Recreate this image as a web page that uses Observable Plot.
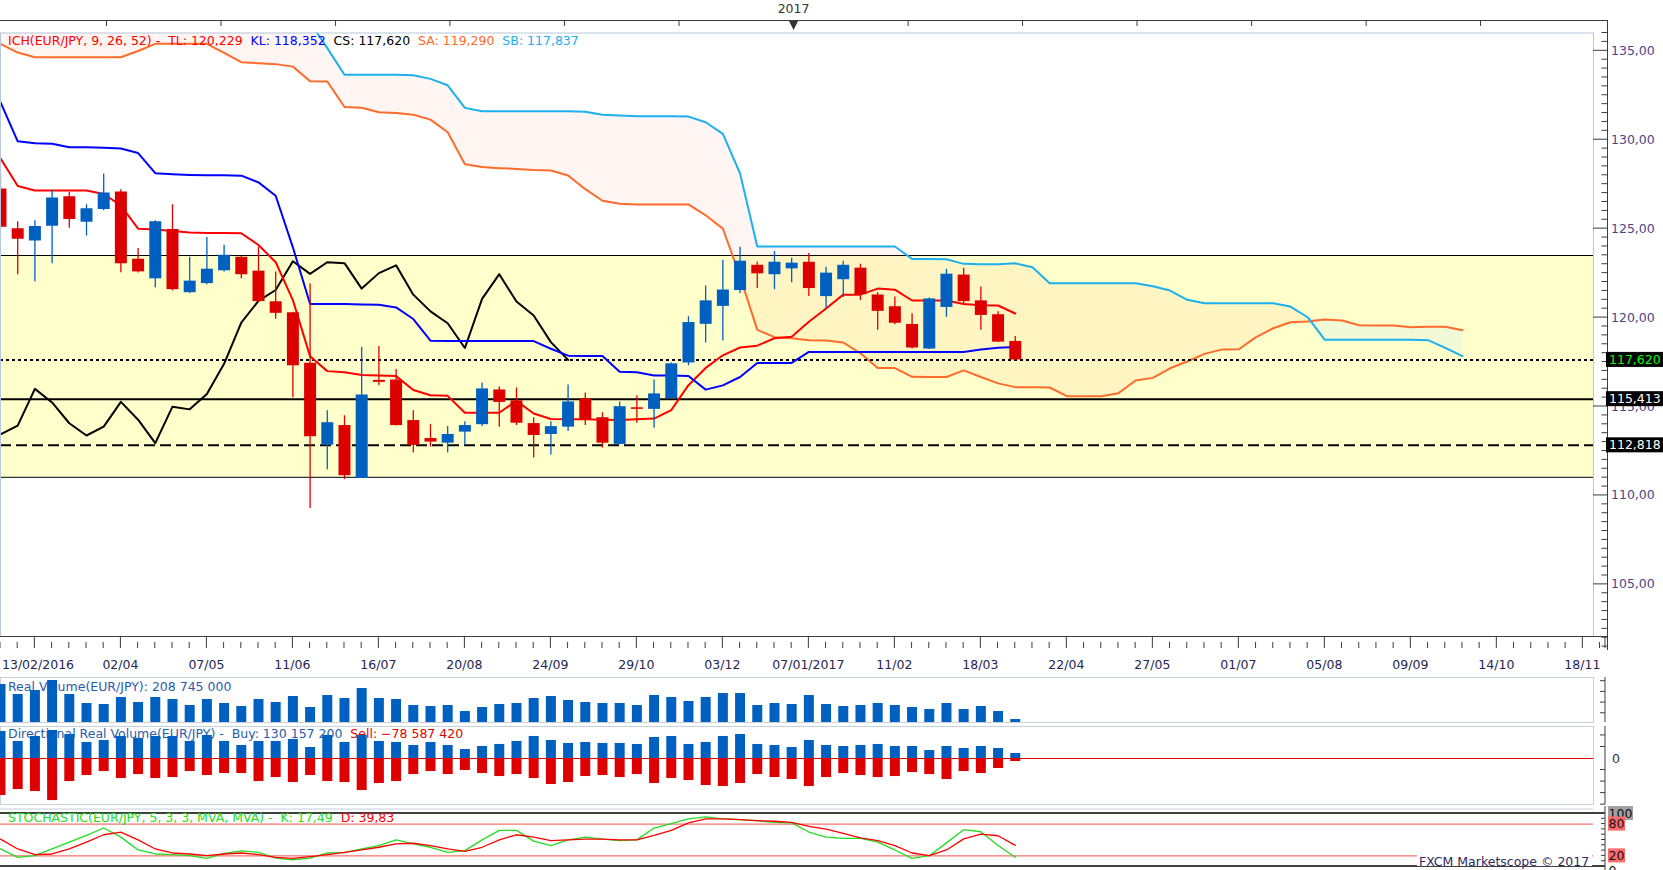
<!DOCTYPE html>
<html><head><meta charset="utf-8">
<script src="https://cdn.jsdelivr.net/npm/d3@7"></script>
<script src="https://cdn.jsdelivr.net/npm/@observablehq/plot@0.6"></script>
<style>
body{margin:0;background:#fff;overflow:hidden;}
#wrap{position:relative;width:1663px;height:870px;overflow:hidden;background:#fff;}
#wrap svg{position:absolute;left:0;}
</style></head><body><div id="wrap"></div>
<script>
// ---------- DATA (weekly EUR/JPY, first week 13/02/2016) ----------
const open  = [127.23,125.00,124.30,125.13,126.79,125.36,126.08,127.06,123.28,122.18,124.95,121.40,121.91,122.63,123.39,122.61,120.89,120.27,117.43,112.83,113.93,110.96,116.47,116.49,114.21,113.20,112.94,113.56,113.98,115.93,115.32,114.04,113.43,113.84,115.43,114.37,112.87,114.93,114.84,115.45,117.45,119.62,120.63,121.52,122.94,122.41,122.74,123.11,121.18,122.13,122.78,121.27,120.61,119.61,118.23,120.57,122.39,120.94,120.16,118.66];
const high  = [128.09,125.39,125.45,127.14,127.04,126.34,128.07,127.19,123.89,125.45,126.34,123.39,124.50,124.06,123.45,123.95,122.56,120.30,121.89,114.76,114.48,118.32,118.38,117.08,114.76,113.98,113.87,114.15,116.32,116.10,116.04,114.37,114.15,116.21,115.76,114.65,115.26,115.60,116.49,117.45,120.05,121.78,123.22,123.95,123.11,123.72,123.33,123.61,122.83,123.17,123.00,121.39,121.16,120.22,121.10,122.72,122.78,121.72,120.33,118.94];
const low   = [124.95,122.41,122.02,123.02,125.02,124.58,126.00,122.52,122.50,121.68,121.50,121.35,121.85,122.56,122.18,120.85,119.90,115.49,109.27,111.44,110.89,110.96,116.17,113.90,112.39,112.72,112.39,112.81,113.87,113.84,113.93,112.11,112.28,113.59,113.93,112.67,112.85,114.06,113.78,115.40,117.29,118.57,118.68,121.35,121.63,121.57,121.96,121.18,120.51,121.13,120.96,119.29,119.60,118.23,118.20,120.01,120.74,119.29,118.60,117.60];
const close = [125.08,124.41,125.12,126.73,125.52,126.12,127.01,123.02,122.57,125.39,121.57,122.05,122.72,123.50,122.41,120.90,120.24,117.29,113.30,114.09,111.11,115.65,116.36,113.93,112.81,113.00,113.43,113.93,115.99,115.23,114.06,113.37,113.87,115.26,114.26,112.94,114.99,114.84,115.71,117.40,119.72,120.94,121.55,123.17,122.46,123.11,123.06,121.63,122.50,122.94,121.29,120.35,119.68,118.29,121.05,122.44,120.90,120.12,118.62,117.620];
const tenkan = [128.95,127.40,127.15,127.15,127.15,127.15,126.95,126.30,125.00,124.95,124.87,124.78,124.76,124.76,124.74,124.08,123.11,120.98,117.82,116.99,116.93,116.77,116.75,116.71,115.93,115.63,115.60,114.65,114.65,114.65,115.32,114.61,114.30,114.28,114.28,114.26,114.24,114.28,114.32,114.80,116.20,117.17,117.88,118.32,118.42,118.84,118.92,119.77,120.51,121.29,121.29,121.63,121.57,120.96,120.96,120.96,120.76,120.70,120.68,120.229];
const kijun = [132.11,129.91,129.80,129.77,129.58,129.57,129.55,129.51,129.25,128.12,128.06,128.02,128.00,128.00,127.98,127.60,126.85,123.95,120.76,120.76,120.76,120.74,120.72,120.57,119.92,118.70,118.68,118.68,118.68,118.68,118.68,118.68,118.25,117.86,117.84,117.84,116.95,116.93,116.75,116.75,116.72,115.95,116.19,116.66,117.45,117.45,117.45,118.07,118.07,118.07,118.07,118.07,118.07,118.07,118.07,118.07,118.07,118.20,118.31,118.352];
const senkouA = [135.39,134.90,134.64,134.64,134.64,134.64,134.64,134.64,134.99,135.39,
 135.39,135.39,135.39,134.88,134.36,134.30,134.25,134.11,133.29,133.27,
 131.84,131.80,131.54,131.50,131.40,131.13,130.42,128.62,128.46,128.40,
 128.36,128.30,128.27,127.99,127.22,126.57,126.40,126.36,126.36,126.36,
 126.36,125.75,125.00,122.30,119.31,118.90,118.84,118.73,118.71,118.60,
 117.99,117.17,117.16,116.67,116.66,116.66,117.03,116.66,116.30,116.09,
 116.09,116.07,115.58,115.58,115.58,115.75,116.46,116.61,117.15,117.53,
 117.96,118.20,118.22,118.90,119.40,119.74,119.78,119.89,119.84,119.57,
 119.55,119.55,119.46,119.48,119.48,119.290];
const senkouB = [137.2,137.2,137.2,137.2,137.2,137.2,137.2,137.2,137.2,137.2,
 137.2,137.2,137.2,137.2,137.2,137.2,137.2,137.2,136.6,135.15,
 133.65,133.65,133.65,133.65,133.62,133.42,133.06,131.79,131.60,131.60,
 131.60,131.60,131.60,131.60,131.57,131.40,131.36,131.32,131.32,131.32,
 131.30,130.98,130.33,128.10,124.00,124.00,124.00,124.00,124.00,124.00,
 124.00,124.00,124.00,123.30,123.30,123.28,123.02,123.00,123.00,123.05,
 122.83,121.93,121.93,121.93,121.93,121.93,121.93,121.76,121.52,121.00,
 120.81,120.81,120.81,120.81,120.81,120.62,120.02,118.75,118.75,118.75,
 118.75,118.75,118.75,118.73,118.30,117.837];
// volumes in millions
const realVol = [1846,1378,1565,2033,1378,957,910,1238,1004,1238,1144,863,1144,957,816,1144,1004,1284,770,1331,1191,1659,1191,1144,863,816,863,582,770,910,957,1191,1284,1097,1004,957,957,863,1331,1238,1050,1238,1425,1425,863,957,910,1331,910,816,863,957,863,770,676,957,676,816,582,208.745];
const buyVol = [703,443,573,729,625,417,469,573,521,573,573,443,599,443,339,443,443,495,286,599,417,599,443,417,339,417,339,234,312,365,443,573,469,391,417,391,391,365,547,573,365,417,573,625,365,339,286,469,339,312,339,365,312,312,208,312,260,312,260,130.1572];
const sellVol = [-963,-807,-859,-1094,-599,-443,-339,-521,-417,-521,-495,-339,-443,-391,-391,-599,-495,-625,-443,-599,-625,-833,-651,-599,-417,-339,-417,-312,-391,-469,-417,-521,-677,-625,-469,-443,-495,-417,-651,-521,-573,-703,-729,-651,-417,-495,-547,-729,-495,-391,-443,-495,-469,-365,-417,-547,-339,-391,-260,-78.58742];
const stochK = [33.1,17.2,20.4,33.1,45.9,58.6,72.6,55.4,31.2,23.6,22.3,20.4,15.3,24.8,29.3,26.8,15.9,12.7,15.9,25.5,26.1,33.1,39.5,50.3,42.7,36.3,26.8,29.9,50.3,68.2,68.2,47.8,39.5,50.3,55.4,51.6,49.0,50.3,72.6,80.9,89.8,93.6,89.8,88.5,86.0,83.4,82.2,65.0,55.4,52.9,52.9,45.9,31.2,15.3,20.4,44.6,69.4,65.6,39.5,17.49];
const stochD = [51.6,33.1,22.3,23.6,33.1,45.9,59.9,65.0,50.3,33.1,25.5,23.6,20.4,23.6,25.5,22.3,17.2,15.3,18.5,22.3,26.8,31.2,36.3,42.7,43.9,39.5,33.1,28.7,36.3,50.3,59.9,55.4,49.0,50.3,51.6,51.6,50.3,50.3,58.6,68.2,82.2,89.8,89.8,88.5,86.6,85.4,83.4,75.8,70.7,62.4,54.1,49.0,39.5,25.5,20.4,31.2,52.2,61.1,58.0,39.83];
const zone = [111.02, 123.49];
const levels = [117.620, 115.413, 112.818];
const levelColors = ["#00FF00", "#FFFFFF", "#FFFFFF"];
const xTickIdx = [0,7,12,17,22,27,32,37,42,47,52,57,62,67,72,77,82,87,92];
const xTickLabels = ["13/02/2016","02/04","07/05","11/06","16/07","20/08","24/09","29/10","03/12","07/01/2017","11/02","18/03","22/04","27/05","01/07","05/08","09/09","14/10","18/11"];
const yTicks = [105,110,115,120,125,130,135];
const topTickIdx = [6.19,12.85,19.51,26.16,32.82,39.48,52.80,59.45,66.11,72.77,79.43,86.08];
const yearIdx = 46.14, yearLabel = "2017";
const stochLevels = [100, 80, 20, 0];

// ---------- SETUP ----------
const FONT = "DejaVu Sans";
const W = 1663, XMAX = 92.62, MR = 70;
const BLUE = "#0060C0", RED = "#DD0000";
const fmt = (v, d) => v.toFixed(d).replace(".", ",");
const fmtSp = v => d3.format(",")(Math.round(v)).replace(/,/g, " ");
const candles = open.map((o, i) => ({i, o, h: high[i], l: low[i], c: close[i], tk: tenkan[i], kj: kijun[i]}));
const up = candles.filter(d => d.c >= d.o), down = candles.filter(d => d.c < d.o);
const cloud = senkouA.map((sa, i) => ({i, sa, sb: senkouB[i], top: Math.max(sa, senkouB[i])}));
const vols = realVol.map((v, i) => ({i, v, b: buyVol[i], s: sellVol[i], k: stochK[i], d: stochD[i]}));
const wrap = document.getElementById("wrap");
const xOpt = {type: "linear", domain: [0, XMAX], axis: null};

function txt(svg, x, y, parts, anchor = "start") {
  const t = d3.select(svg).append("text").attr("x", x).attr("y", y)
    .attr("font-family", FONT).attr("font-size", 12.5).attr("text-anchor", anchor)
    .attr("xml:space", "preserve").style("white-space", "pre");
  parts.forEach(([s, c]) => t.append("tspan").attr("fill", c).text(s));
  return t.node();
}
function behind(svg, node) {
  const f = svg.querySelector('[aria-label="frame"]');
  svg.insertBefore(node, f ? f.nextSibling : svg.firstChild);
}
function line(svg, x1, y1, x2, y2, c, w = 1) {
  d3.select(svg).append("line").attr("x1", x1).attr("y1", y1).attr("x2", x2).attr("y2", y2)
    .attr("stroke", c).attr("stroke-width", w);
}

// ---------- MAIN PRICE PANEL ----------
const main = Plot.plot({
  width: W, height: 675, marginLeft: 0, marginRight: MR, marginTop: 32.5, marginBottom: 39,
  style: {fontFamily: FONT, fontSize: "12.5px", background: "white"},
  x: xOpt, y: {domain: [102.07, 136.0], axis: null},
  marks: [
    Plot.rect([zone], {y1: d => d[0], y2: d => d[1], fill: "#FFFFCC"}),
    Plot.ruleY(zone, {stroke: "#000", strokeWidth: 1}),
    Plot.areaY(cloud, {x: "i", y1: "sa", y2: "top", fill: "#FF7050", fillOpacity: 0.07, clip: true}),
    Plot.areaY(cloud, {x: "i", y1: "sb", y2: "top", fill: "#CFEBF0", fillOpacity: 0.3, clip: true}),
    Plot.line(cloud, {x: "i", y: "sa", stroke: "#FF6B2B", strokeWidth: 2, clip: true}),
    Plot.line(cloud, {x: "i", y: "sb", stroke: "#1CB0F0", strokeWidth: 2, clip: true}),
    Plot.ruleY([levels[0]], {stroke: "#000", strokeWidth: 2, strokeDasharray: "3,3"}),
    Plot.ruleY([levels[1]], {stroke: "#000", strokeWidth: 2}),
    Plot.ruleY([levels[2]], {stroke: "#000", strokeWidth: 2, strokeDasharray: "11,5"}),
    Plot.line(candles, {x: d => d.i - 26, y: "c", stroke: "#000", strokeWidth: 2, clip: true}),
    Plot.line(candles, {x: "i", y: "tk", stroke: "#FF0000", strokeWidth: 2, clip: true}),
    Plot.line(candles, {x: "i", y: "kj", stroke: "#0000FF", strokeWidth: 2, clip: true}),
    Plot.ruleX(up, {x: "i", y1: "l", y2: "h", stroke: BLUE, strokeWidth: 1.3, clip: true}),
    Plot.ruleX(down, {x: "i", y1: "l", y2: "h", stroke: RED, strokeWidth: 1.3, clip: true}),
    Plot.ruleX(up, {x: "i", y1: "o", y2: "c", stroke: BLUE, strokeWidth: 12, clip: true}),
    Plot.ruleX(down, {x: "i", y1: "o", y2: "c", stroke: RED, strokeWidth: 12, clip: true}),
    Plot.frame({stroke: "#B8C8DC"})
  ]
});
main.style.top = "0px";
wrap.appendChild(main);
{
  const sx = main.scale("x"), sy = main.scale("y");
  const X = v => sx.apply(v), Y = v => sy.apply(v);
  const AXX = 1607.5, AC = "#3c3c3c";
  // top line + ticks + year marker
  line(main, 0, 20.5, AXX, 20.5, AC);
  topTickIdx.forEach(t => line(main, X(t), 20, X(t), 26, AC));
  const tx = X(yearIdx);
  d3.select(main).append("path").attr("d", `M${tx-4.5},21L${tx+4.5},21L${tx},30Z`).attr("fill", "#333");
  txt(main, tx, 13, [[yearLabel, "#333"]], "middle");
  // right price axis
  line(main, AXX, 20, AXX, 650, AC);
  d3.range(101.5, 136.01, 0.5).forEach(v => {
    const y = Y(v);
    if (yTicks.includes(v)) line(main, 1593, y, AXX, y, AC); else line(main, 1601.5, y, AXX, y, AC);
  });
  yTicks.forEach(v => txt(main, 1611, Y(v) + 4.5, [[fmt(v, 2), "#4B4588"]]));
  // bottom time axis
  line(main, 0, 636.5, AXX, 636.5, AC);
  d3.range(0, 94).forEach(i => {
    const x = X(i); if (x > 1600) return;
    if ((i - 2) % 5 === 0) line(main, x, 636, x, 648, AC); else line(main, x, 642, x, 648, AC);
  });
  line(main, 1605, 636, 1605, 648, AC);
  xTickIdx.forEach((t, k) => txt(main, k === 0 ? X(t) + 2 : X(t), 668.5, [[xTickLabels[k], "#262650"]], k === 0 ? "start" : "middle"));
  // level labels
  levels.forEach((v, k) => {
    d3.select(main).append("rect").attr("x", 1606).attr("y", Y(v) - 7.5).attr("width", 57).attr("height", 15).attr("fill", "#000");
    txt(main, 1609, Y(v) + 4.5, [[fmt(v, 3), levelColors[k]]]);
  });
  // legend
  txt(main, 8, 45, [
    [`ICH(EUR/JPY, 9, 26, 52) -  TL: ${fmt(tenkan[tenkan.length-1], 3)}`, "#FF0000"],
    [`  KL: ${fmt(kijun[kijun.length-1], 3)}`, "#0000FF"],
    [`  CS: ${fmt(close[close.length-1], 3)}`, "#000000"],
    [`  SA: ${fmt(senkouA[senkouA.length-1], 3)}`, "#FF6B2B"],
    [`  SB: ${fmt(senkouB[senkouB.length-1], 3)}`, "#1CB0F0"]
  ]);
}

// ---------- REAL VOLUME PANEL ----------
const rv = Plot.plot({
  width: W, height: 56, marginLeft: 0, marginRight: MR, marginTop: 7, marginBottom: 4,
  style: {fontFamily: FONT, background: "transparent"},
  x: xOpt, y: {domain: [69, 2173], axis: null},
  marks: [
    Plot.frame({stroke: "#C8D0DC"}),
    Plot.ruleX(vols, {x: "i", y: "v", stroke: BLUE, strokeWidth: 10, clip: true})
  ]
});
rv.style.top = "670px";
wrap.appendChild(rv);
{
  const sy = rv.scale("y");
  behind(rv, txt(rv, 8, 20.5, [[`Real Volume(EUR/JPY): ${fmtSp(realVol[realVol.length-1] * 1e6)}`, "#2A5CAA"]]));
  line(rv, 1605, 7, 1605, 52, "#3c3c3c");
  [500, 1000, 1500, 2000].forEach(v => line(rv, 1600, sy.apply(v), 1605, sy.apply(v), "#3c3c3c"));
}

// ---------- DIRECTIONAL REAL VOLUME PANEL ----------
const drv = Plot.plot({
  width: W, height: 82, marginLeft: 0, marginRight: MR, marginTop: 2, marginBottom: 2,
  style: {fontFamily: FONT, background: "transparent"},
  x: xOpt, y: {domain: [-1196, 832], axis: null},
  marks: [
    Plot.frame({stroke: "#C8D0DC"}),
    Plot.ruleX(vols, {x: "i", y: "b", stroke: BLUE, strokeWidth: 10, clip: true}),
    Plot.ruleX(vols, {x: "i", y: "s", stroke: RED, strokeWidth: 10, clip: true}),
    Plot.ruleY([0], {stroke: "#E00000", strokeWidth: 1.2})
  ]
});
drv.style.top = "724px";
wrap.appendChild(drv);
{
  const sy = drv.scale("y");
  behind(drv, txt(drv, 8, 14.2, [
    [`Directional Real Volume(EUR/JPY) -  Buy: ${fmtSp(buyVol[buyVol.length-1] * 1e6)}`, "#2A5CAA"],
    [`  Sell: ${fmtSp(sellVol[sellVol.length-1] * 1e6)}`, "#E00000"]
  ]));
  txt(drv, 1612, sy.apply(0) + 4.5, [["0", "#333"]]);
  line(drv, 1605, 2, 1605, 80, "#3c3c3c");
  [-1200, -900, -600, -300, 300, 600].forEach(v => line(drv, 1600, sy.apply(v), 1605, sy.apply(v), "#3c3c3c"));
}

// ---------- STOCHASTIC PANEL ----------
const st = Plot.plot({
  width: W, height: 64, marginLeft: 0, marginRight: MR, marginTop: 7, marginBottom: 4,
  style: {fontFamily: FONT, background: "transparent"},
  x: xOpt, y: {domain: [0, 100], axis: null},
  marks: [
    Plot.ruleY([stochLevels[1], stochLevels[2]], {stroke: "#F05050", strokeWidth: 1}),
    Plot.line(vols, {x: "i", y: "k", stroke: "#22DD22", strokeWidth: 1.3, clip: true}),
    Plot.line(vols, {x: "i", y: "d", stroke: "#FF0000", strokeWidth: 1.3, clip: true})
  ]
});
st.style.top = "806px";
wrap.appendChild(st);
{
  const sy = st.scale("y"), Y = v => sy.apply(v);
  line(st, 0, 3, 1593, 3, "#C8D0DC");
  line(st, 0, Y(100), 1605, Y(100), "#000", 1.3);
  line(st, 0, Y(0), 1605, Y(0), "#000", 1.3);
  line(st, 1605, 0, 1605, 64, "#3c3c3c");
  d3.range(10, 100, 10).forEach(v => line(st, 1601, Y(v), 1605, Y(v), "#3c3c3c"));
  txt(st, 8, 16.2, [
    [`STOCHASTIC(EUR/JPY, 5, 3, 3, MVA, MVA) -  K: ${fmt(stochK[stochK.length-1], 2)}`, "#22DD22"],
    [`  D: ${fmt(stochD[stochD.length-1], 2)}`, "#FF0000"]
  ]);
  const boxes = [[100, "#A0A0A0", 25], [80, "#FF6A6A", 17], [20, "#FF6A6A", 17]];
  boxes.forEach(([v, c, w]) => {
    d3.select(st).append("rect").attr("x", 1608).attr("y", Y(v) - 7).attr("width", w).attr("height", 14).attr("fill", c);
    txt(st, 1608.5, Y(v) + 4.5, [[String(v), "#111"]]);
  });
  txt(st, 1608.5, Y(0) + 9, [["0", "#111"]]);
  d3.select(st).append("rect").attr("x", 1417).attr("y", 43).attr("width", 175).attr("height", 17).attr("fill", "#fff");
  txt(st, 1419, 60, [["FXCM Marketscope © 2017", "#2B2B5E"]]);
}
</script></body></html>
